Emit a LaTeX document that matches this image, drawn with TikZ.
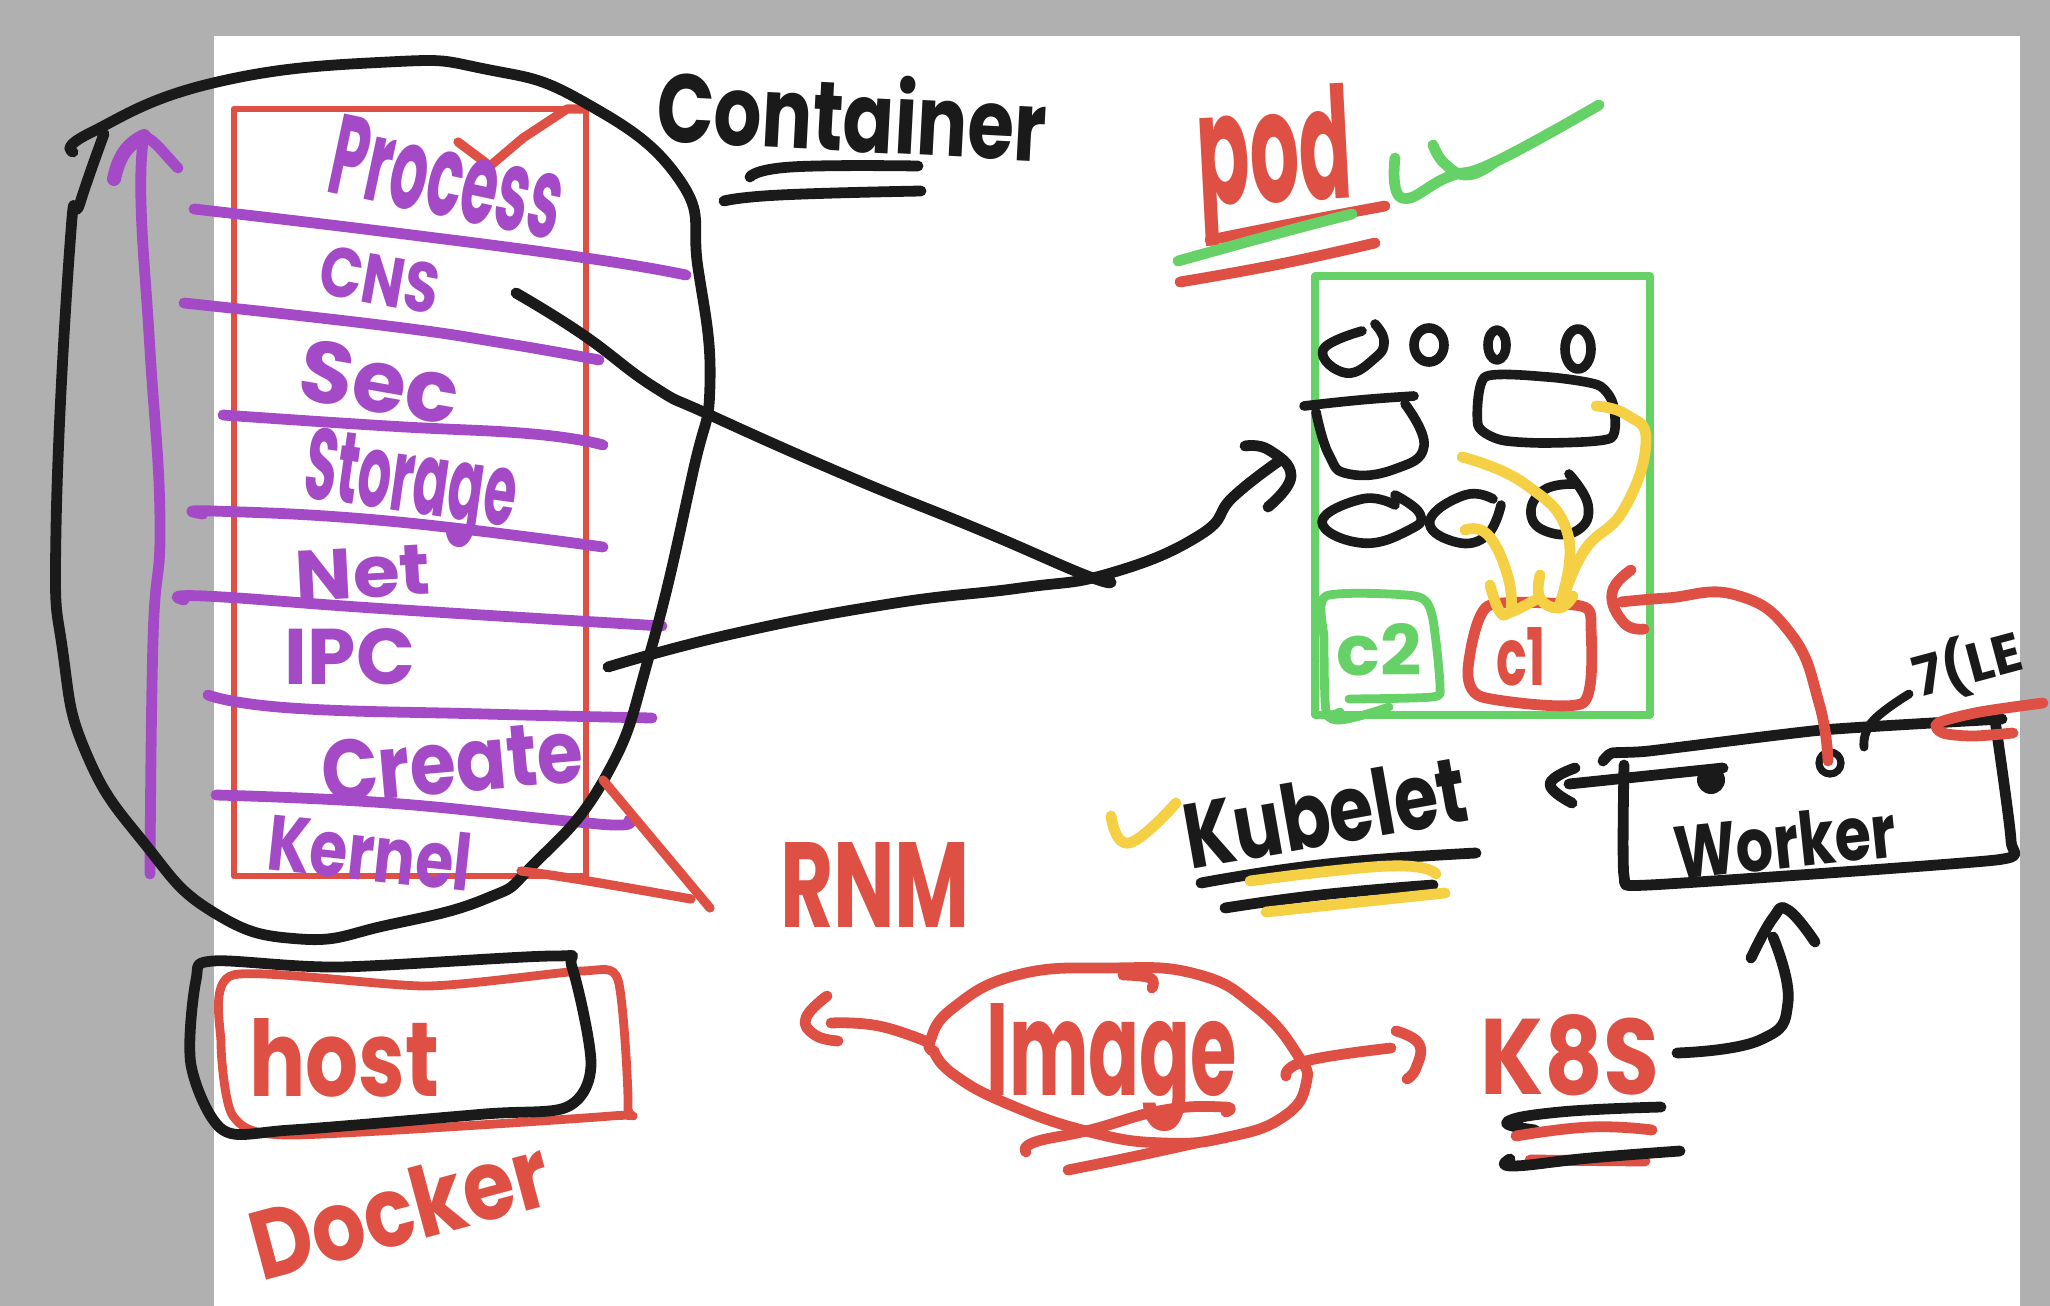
\documentclass[tikz,border=0pt]{standalone}
\usepackage{fontspec}
\setmainfont{Poppins}
\definecolor{sketchblack}{HTML}{1A1A1A}
\definecolor{sketchred}{HTML}{DE5044}
\definecolor{sketchpurple}{HTML}{A44AC6}
\definecolor{sketchgreen}{HTML}{66D166}
\definecolor{sketchyellow}{HTML}{F5D044}
\definecolor{sketchgray}{HTML}{B0B0B0}
% width and height in reference pixels, then the text
\newcommand{\fitlabel}[3]{\resizebox{0.5\dimexpr#1pt\relax}{0.5\dimexpr#2pt\relax}{#3}}
\tikzset{
  curve/.style={smooth,tension=0.8},
  pen/.style={line width=5.4pt,line cap=round,line join=round},
  thinpen/.style={line width=3.4pt,line cap=round,line join=round},
  blackpen/.style={pen,draw=sketchblack},
  doodlepen/.style={line width=4.8pt,line cap=round,line join=round,draw=sketchblack},
  redpen/.style={pen,draw=sketchred},
  purplepen/.style={pen,draw=sketchpurple},
  greenpen/.style={pen,draw=sketchgreen},
  yellowpen/.style={pen,draw=sketchyellow},
  hand/.style={inner sep=0pt,font=\bfseries}
}
\begin{document}
\begin{tikzpicture}[x=0.5pt,y=-0.5pt]
\useasboundingbox (0,0) rectangle (2050,1306);
\fill[sketchgray] (0,0) rectangle (2050,1306);
\fill[white] (214,36) rectangle (2020,1306);

% the stack of namespaces
\draw[thinpen,draw=sketchred] (234,109) rectangle (586,876);
\draw[redpen,line width=4.6pt] (458,142) -- (490,166) -- (523,138) -- (567,109) -- (582,109);

\draw[purplepen] plot[curve] coordinates {(150,874) (153,640) (160,521) (150,350) (141,203) (144,136)};
\draw[purplepen,line width=7pt] (144,136) .. controls (125,145) and (118,160) .. (114,179);
\draw[purplepen] (144,136) .. controls (155,140) and (165,155) .. (178,168);

\draw[purplepen] plot[curve] coordinates {(194,209) (388,232) (586,258) (686,275)};
\draw[purplepen] plot[curve] coordinates {(184,303) (388,326) (509,344) (599,360)};
\draw[purplepen] plot[curve] coordinates {(223,415) (388,426) (533,434) (603,445)};
\draw[purplepen] plot[curve] coordinates {(203,514) (213,511) (388,521) (603,547)};
\draw[purplepen] plot[curve] coordinates {(184,600) (204,596) (388,609) (662,626)};
\draw[purplepen] plot[curve] coordinates {(208,695) (291,708) (485,714) (652,718)};
\draw[purplepen] plot[curve] coordinates {(216,795) (388,803) (557,820) (620,825) (629,820)};

\node[hand,text=sketchpurple,rotate=-12] (process) at (448,177) {\fitlabel{235}{80}{Process}};
\node[hand,text=sketchpurple,rotate=-10] (cns) at (380,280) {\fitlabel{120}{50}{CNS}};
\node[hand,text=sketchpurple,rotate=-10] (sec) at (380,382) {\fitlabel{160}{62}{Sec}};
\node[hand,text=sketchpurple,rotate=-8] (storage) at (410,490) {\fitlabel{212}{72}{Storage}};
\node[hand,text=sketchpurple,rotate=3] (net) at (363,573) {\fitlabel{135}{50}{Net}};
\node[hand,text=sketchpurple] (ipc) at (350,657) {\fitlabel{130}{56}{IPC}};
\node[hand,text=sketchpurple,rotate=5] (create) at (452,762) {\fitlabel{262}{62}{Create}};
\node[hand,text=sketchpurple,rotate=-6] (kernel) at (370,852) {\fitlabel{205}{58}{Kernel}};

\draw[blackpen] plot[curve] coordinates {(73,152) (90,133) (213,83) (388,62) (485,69) (582,101) (679,179) (698,268) (710,383) (693,472) (650,653) (606,776) (533,865) (485,899) (388,925) (300,939) (213,912) (145,844) (87,755) (63,653) (56,530) (70,244) (80,203) (104,134)};

\draw[redpen,line width=4.6pt] (603,780) -- (710,908);
\draw[redpen,line width=4.6pt] plot[curve] coordinates {(521,871) (582,880) (691,899)};

\node[hand,text=sketchblack,rotate=-3] (container) at (852,113) {\fitlabel{390}{78}{Container}};
\draw[blackpen] plot[curve] coordinates {(750,177) (791,167) (918,166)};
\draw[blackpen] plot[curve] coordinates {(724,201) (780,195) (921,191)};

% host and docker
\draw[redpen,line width=4.4pt] plot[smooth cycle,tension=0.4] coordinates {(233,975) (427,986) (582,971) (618,980) (628,1107) (611,1116) (291,1135) (233,1116) (221,1043)};
\draw[blackpen] plot[smooth cycle,tension=0.5] coordinates {(213,961) (339,967) (553,956) (572,967) (591,1065) (567,1107) (485,1114) (291,1130) (223,1130) (191,1065) (196,980)};
\node[hand,text=sketchred] (host) at (344,1058) {\fitlabel{190}{78}{host}};
\node[hand,text=sketchred,rotate=15] (docker) at (400,1208) {\fitlabel{305}{72}{Docker}};

% pod
\node[hand,text=sketchred,rotate=3] (pod) at (1275,165) {\fitlabel{155}{115}{pod}};
\draw[redpen] plot[curve] coordinates {(1210,240) (1300,222) (1385,206)};
\draw[greenpen] plot[curve] coordinates {(1178,261) (1283,232) (1352,214)};
\draw[redpen] plot[curve] coordinates {(1180,282) (1280,264) (1375,243)};
\draw[greenpen] plot[curve] coordinates {(1395,158) (1402,198) (1448,177) (1495,162) (1599,105)};
\draw[greenpen] plot[curve] coordinates {(1433,145) (1445,164) (1468,175) (1495,162)};

\draw[greenpen,line width=3.6pt,line cap=butt] (1315,276) rectangle (1650,715);

\draw[doodlepen] plot[curve] coordinates {(1362,331) (1323,350) (1346,373) (1375,358) (1384,341) (1375,324)};
\draw[doodlepen] (1429,345) ellipse (15 and 17);
\draw[doodlepen] (1497,345) ellipse (9 and 15);
\draw[doodlepen] (1578,349) ellipse (13 and 20);
\draw[doodlepen] plot[curve] coordinates {(1304,406) (1360,400) (1414,396)};
\draw[doodlepen] plot[curve] coordinates {(1316,412) (1329,455) (1349,474) (1395,469) (1424,446) (1405,404)};
\draw[doodlepen] plot[smooth cycle,tension=0.4] coordinates {(1485,377) (1548,377) (1598,385) (1613,404) (1611,438) (1548,443) (1501,440) (1478,425)};
\draw[doodlepen] plot[curve] coordinates {(1395,505) (1362,499) (1322,522) (1362,543) (1409,530) (1420,514) (1395,495)};
\draw[doodlepen] plot[curve] coordinates {(1493,499) (1465,495) (1430,520) (1452,541) (1485,537) (1501,505)};
\draw[doodlepen] plot[curve] coordinates {(1569,474) (1588,505) (1578,530) (1548,532) (1531,514) (1544,490) (1574,484)};

\draw[greenpen,line width=4.4pt] plot[smooth,tension=0.4] coordinates {(1340,712) (1326,711) (1324,640) (1326,596) (1415,596) (1432,615) (1440,686) (1432,697) (1349,699)};
\draw[greenpen,line width=4.4pt] plot[curve] coordinates {(1326,711) (1340,720) (1389,707)};
\node[hand,text=sketchgreen] (c2) at (1379,650) {\fitlabel{85}{52}{c2}};

\draw[redpen] plot[smooth cycle,tension=0.4] coordinates {(1488,606) (1581,606) (1591,627) (1583,703) (1482,697) (1468,669)};
\node[hand,text=sketchred] (c1) at (1521,657) {\fitlabel{50}{58}{c1}};

\draw[yellowpen] plot[curve] coordinates {(1596,406) (1627,415) (1646,442) (1624,509) (1584,551) (1561,606)};
\draw[yellowpen] plot[curve] coordinates {(1462,457) (1525,484) (1568,535) (1559,606)};
\draw[yellowpen] plot[curve] coordinates {(1465,530) (1488,535) (1508,577) (1511,612)};
\draw[yellowpen] plot[curve] coordinates {(1490,585) (1500,612) (1511,612) (1535,600)};
\draw[yellowpen] plot[curve] coordinates {(1540,575) (1540,598) (1559,608) (1573,596)};

% the two lines that go into the pod
\coordinate (cnsend) at (516,293);
\coordinate (ipcend) at (608,667);
\coordinate (podtip) at (1279,461);
\draw[blackpen] plot[curve] coordinates {(cnsend) (582,334) (654,387) (710,415) (850,477) (980,530) (1085,575) (1111,582)};
\draw[blackpen] plot[curve] coordinates {(ipcend) (732,634) (889,604) (1020,588) (1111,573) (1200,535) (1233,497) (podtip)};
\draw[blackpen] plot[curve] coordinates {(1245,446) (1269,450) (1291,476) (1268,507)};

% worker
\draw[blackpen] plot[smooth,tension=0.3] coordinates {(1603,761) (1612,753) (1649,751) (1822,730) (2002,719)};
\draw[blackpen] plot[smooth,tension=0.3] coordinates {(1995,720) (2011,841) (1996,860) (1649,885) (1624,876) (1624,765)};
\node[hand,text=sketchblack,rotate=6] (worker) at (1785,841) {\fitlabel{222}{55}{Worker}};
\draw[blackpen] (1569,784) -- (1723,768);
\fill[sketchblack] (1711,780) circle (14);
\draw[blackpen] plot[curve] coordinates {(1575,768) (1550,784) (1572,803)};
\draw[blackpen,line width=3.6pt] (1830,763) circle (11);
\draw[blackpen,line width=4.4pt] plot[curve] coordinates {(1864,747) (1872,722) (1909,694)};
\node[hand,text=sketchblack,rotate=15] (role) at (1968,665) {\fitlabel{110}{50}{7(LE}};
\draw[redpen] plot[smooth,tension=0.5] coordinates {(2043,703) (1980,712) (1938,723) (1943,733) (1973,736) (2013,733)};

\draw[redpen] plot[curve] coordinates {(1621,602) (1667,598) (1736,595) (1791,634) (1819,703) (1828,761)};
\draw[redpen] plot[curve] coordinates {(1631,570) (1612,593) (1624,623) (1644,629)};

% kubelet
\node[hand,text=sketchblack,rotate=10] (kubelet) at (1325,812) {\fitlabel{285}{68}{Kubelet}};
\draw[blackpen] plot[curve] coordinates {(1201,883) (1327,864) (1476,853)};
\draw[yellowpen] plot[curve] coordinates {(1250,881) (1389,866) (1436,874)};
\draw[blackpen] plot[curve] coordinates {(1225,908) (1320,895) (1433,885)};
\draw[yellowpen] plot[curve] coordinates {(1266,912) (1350,903) (1445,893)};
\draw[yellowpen] plot[curve] coordinates {(1111,816) (1129,843) (1176,803)};

% image
\node[hand,text=sketchred] (rnm) at (875,885) {\fitlabel{190}{85}{RNM}};
\draw[redpen] plot[curve] coordinates {(934,1051) (930,1041) (953,1008) (1017,975) (1109,968) (1196,974) (1256,1007) (1297,1054) (1306,1084) (1283,1117) (1228,1137) (1164,1143) (1090,1132) (1008,1104) (953,1074) (934,1051)};
\draw[redpen] plot[curve] coordinates {(1123,975) (1150,978) (1152,988)};
\node[hand,text=sketchred] (image) at (1112,1068) {\fitlabel{250}{92}{Image}};
\draw[redpen] plot[curve] coordinates {(831,1023) (879,1026) (930,1043)};
\draw[redpen] plot[curve] coordinates {(827,996) (806,1018) (815,1035) (838,1041)};
\draw[redpen] plot[curve] coordinates {(1286,1076) (1306,1061) (1391,1048)};
\draw[redpen] plot[curve] coordinates {(1396,1031) (1419,1044) (1416,1068) (1407,1079)};
\draw[redpen] plot[curve] coordinates {(1026,1152) (1035,1142) (1090,1130) (1164,1110) (1224,1107) (1226,1112)};
\draw[redpen] plot[curve] coordinates {(1068,1170) (1127,1158) (1196,1143)};

% k8s
\node[hand,text=sketchred] (k8s) at (1570,1055) {\fitlabel{178}{80}{K8S}};
\draw[blackpen] plot[curve] coordinates {(1535,1130) (1507,1122) (1560,1112) (1661,1107)};
\draw[redpen] plot[curve] coordinates {(1516,1136) (1590,1127) (1652,1130)};
\draw[redpen] (1530,1160) -- (1645,1161);
\draw[blackpen] plot[curve] coordinates {(1510,1159) (1513,1166) (1590,1158) (1680,1151)};
\draw[blackpen] plot[curve] coordinates {(1677,1053) (1760,1040) (1788,1002) (1773,937)};
\draw[blackpen] plot[curve] coordinates {(1751,958) (1773,918) (1788,910) (1815,942)};
\end{tikzpicture}
\end{document}
